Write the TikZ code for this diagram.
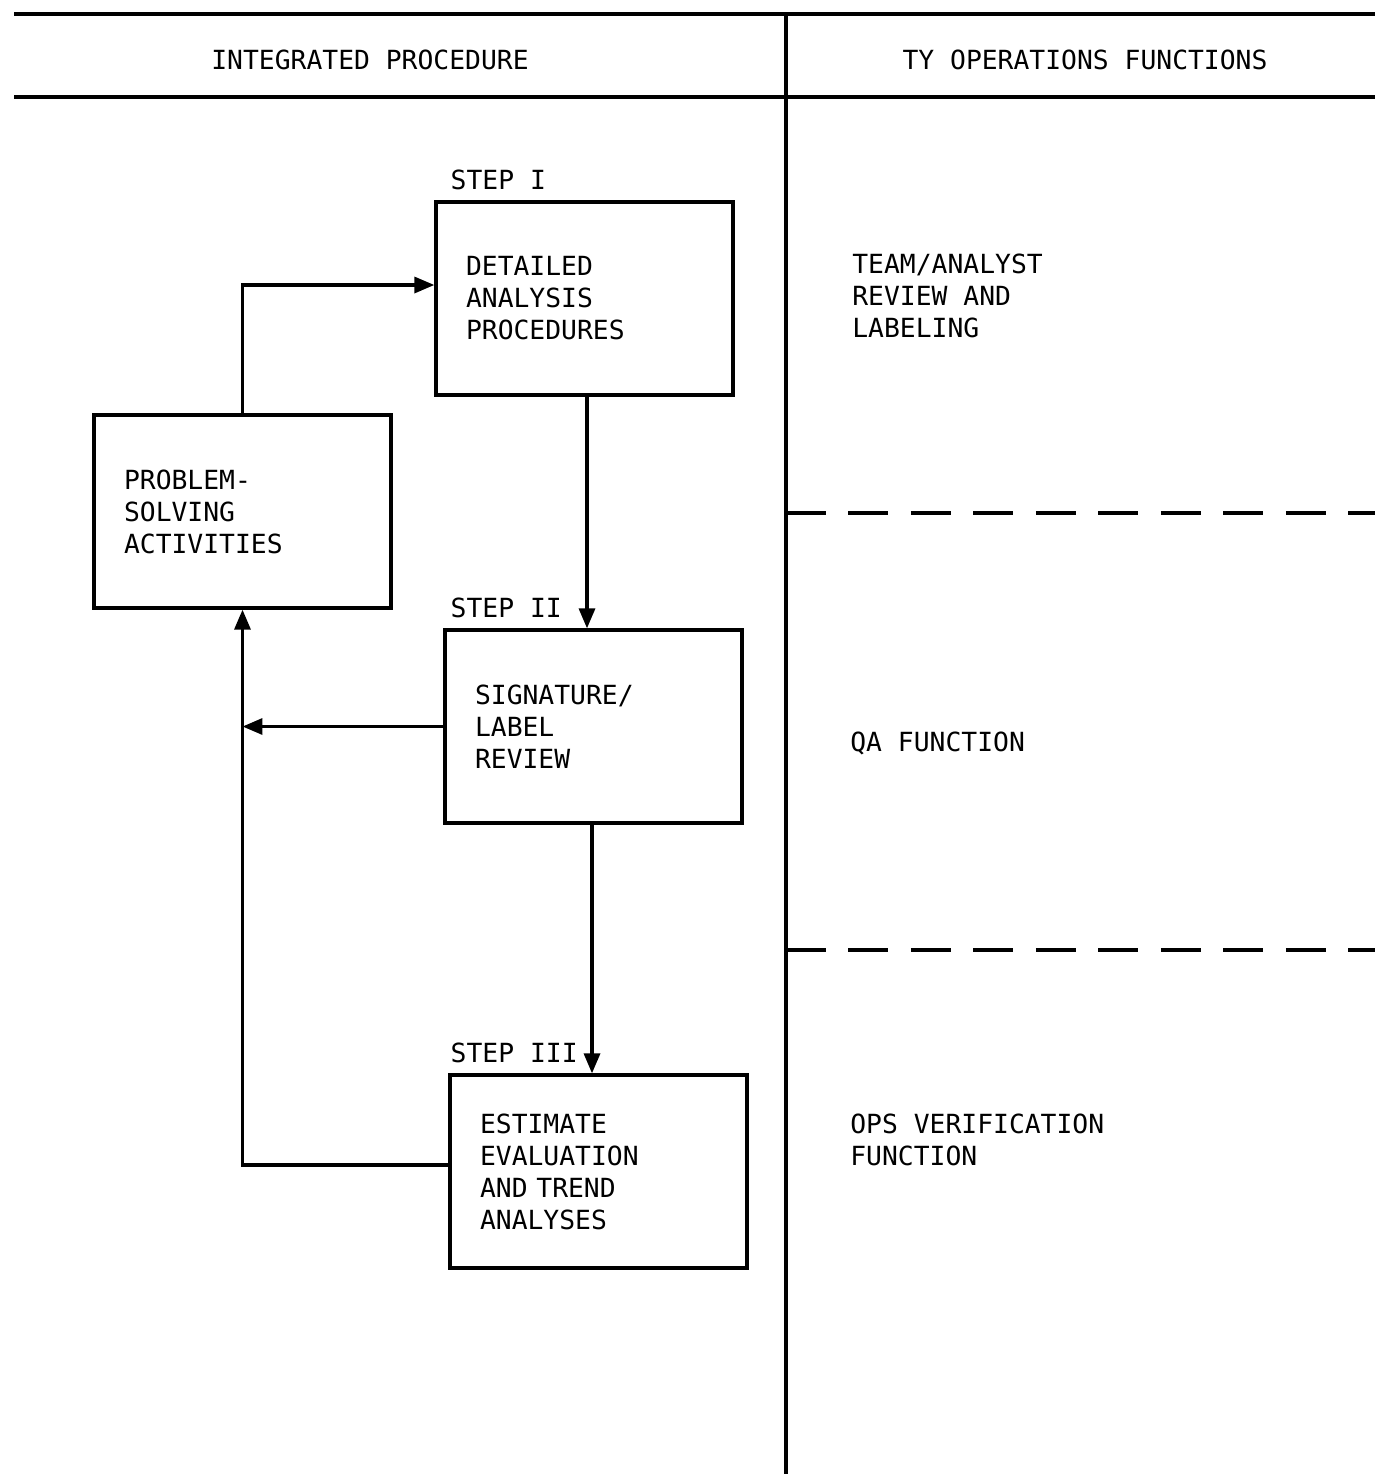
\documentclass[tikz,border=0pt]{standalone}
\usepackage{fontspec}
\setmonofont{DejaVu Sans Mono}
\usetikzlibrary{arrows.meta, positioning, calc}

\begin{document}
\begin{tikzpicture}[
        x=0.02cm, y=-0.02cm,
        font=\ttfamily\fontsize{15}{18.2}\selectfont,
        rule/.style={line width=2.2pt},
        divider/.style={line width=1.9pt, dash pattern=on 0.8cm off 0.45cm},
        box/.style={rectangle, draw, line width=1.9pt, minimum height=3.86cm,
                    text width=4.74cm, inner xsep=0.6cm, align=left},
        lbl/.style={anchor=south west, inner sep=0pt},
        txt/.style={anchor=north west, align=left, inner sep=0pt},
        arr/.style={-{Triangle[length=0.4cm, width=0.32cm]}, line width=1.9pt}
      ]
        \useasboundingbox (0,0) rectangle (1375,1474);
        % table frame
        \draw[rule] (14,14) -- (1375,14);
        \draw[rule] (14,97) -- (1375,97);
        \draw[rule] (786,14) -- (786,1474);
        \draw[divider] (786,513) -- (1375,513);
        \draw[divider] (786,950) -- (1375,950);
        \node (hleft) at (370,60) {INTEGRATED PROCEDURE};
        \node (hright) at (1085,60) {TY OPERATIONS FUNCTIONS};

        % procedure boxes
        \node[box] (s1) at (584.5,298.5) {DETAILED\\ANALYSIS\\PROCEDURES};
        \node[box] (prob) at (242.5,511.5) {PROBLEM-\\SOLVING\\ACTIVITIES};
        \node[box] (s2) at (593.5,726.5) {SIGNATURE/\\LABEL\\REVIEW};
        \node[box] (s3) at (598.5,1171.5) {ESTIMATE\\EVALUATION\\AND TREND\\ANALYSES};
        \node[lbl] (l1) at ([xshift=0.32cm, yshift=0.2cm]s1.north west) {STEP I};
        \node[lbl] (l2) at ([xshift=0.14cm, yshift=0.2cm]s2.north west) {STEP II};
        \node[lbl] (l3) at ([xshift=0.04cm, yshift=0.2cm]s3.north west) {STEP III};

        % flow
        \draw[arr] (prob.north) |- ([yshift=0.27cm]s1.west);
        \draw[arr] ([xshift=0.05cm]s1.south) -- ([xshift=0.05cm]s1.south |- s2.north);
        \draw[arr] (s2.west) -- (s2.west -| prob.south);
        \draw[arr] ([xshift=-0.03cm]s2.south) -- ([xshift=-0.03cm]s2.south |- s3.north);
        \draw[arr] ([yshift=0.13cm]s3.west) -| (prob.south);

        % operations functions
        \node[txt] (team) at (852,254) {TEAM/ANALYST\\REVIEW AND\\LABELING};
        \node[txt] (qa) at (850,732) {QA FUNCTION};
        \node[txt] (ops) at (850,1114) {OPS VERIFICATION\\FUNCTION};
      \end{tikzpicture}
\end{document}
